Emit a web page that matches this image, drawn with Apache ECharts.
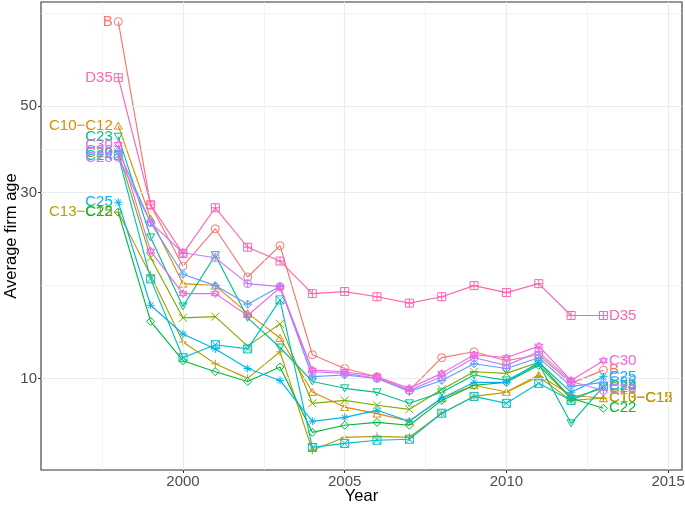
<!DOCTYPE html>
<html>
<head>
<meta charset="utf-8">
<script src="https://cdn.jsdelivr.net/npm/echarts@6/dist/echarts.min.js"></script>
<style>html,body{margin:0;padding:0;background:#fff}#c{width:685px;height:505px}</style>
</head>
<body>
<div id="c"></div>
<script>
const years = [1998,1999,2000,2001,2002,2003,2004,2005,2006,2007,2008,2009,2010,2011,2012,2013];
const seriesNames = ["B","C10−C12","C13−C15","C20","C22","C23","C24","C25","C26","C28","C30","D35"];
const B      = [82.3,27.8,19.4,24.2,18.2,21.9,11.5,10.6,10.1,9.32,11.3,11.7,11.1,11.5,9.71,10.5];
const C10C12 = [44.5,25.7,17.5,17.3,14.7,12.7,9.23,8.44,8.12,7.77,8.89,9.60,9.23,10.2,9.05,8.89];
const C13C15 = [26.7,18.4,12.4,10.9,10.0,11.7,6.54,7.06,7.10,7.06,8.14,8.99,9.21,10.1,8.78,8.89];
const C20    = [38.0,20.4,14.3,14.4,12.1,13.8,8.63,8.78,8.53,8.33,9.37,10.4,10.3,11.0,8.89,9.43];
const C22    = [26.7,14.0,11.1,10.4,9.82,10.7,7.27,7.58,7.71,7.58,8.78,9.60,9.77,10.8,8.89,8.38];
const C23    = [41.7,23.0,15.3,20.7,14.3,12.0,9.82,9.43,9.21,8.63,9.21,10.2,9.88,10.9,7.67,9.54];
const C24    = [37.3,18.0,11.3,12.2,11.9,15.9,6.65,6.81,6.94,6.98,8.14,8.99,8.63,9.71,8.78,9.54];
const C25    = [28.3,15.4,13.0,11.9,10.6,9.88,7.76,7.94,8.28,7.76,8.89,9.77,9.77,11.0,9.21,10.1];
const C26    = [38.4,25.1,18.5,17.3,15.5,17.2,10.1,10.2,10.0,9.26,9.88,10.9,10.6,11.3,9.54,9.77];
const C28    = [36.9,25.1,21.0,20.4,17.5,17.2,10.4,10.3,10.0,9.32,10.1,11.3,10.8,11.7,9.82,9.32];
const C30    = [39.8,21.2,16.5,16.5,14.5,17.1,10.5,10.4,10.1,9.43,10.3,11.5,11.3,12.1,9.88,11.1];
const D35    = [59.1,27.9,20.9,27.4,21.7,20.0,16.5,16.7,16.2,15.6,16.2,17.3,16.6,17.5,14.5,14.5];
const seriesValues = [B,C10C12,C13C15,C20,C22,C23,C24,C25,C26,C28,C30,D35];
const xTicks = [2000,2005,2010,2015];
const xMinor = [1997.5,2002.5,2007.5,2012.5];
const yTicks = [10,30,50];
const yMinor = [17.32,38.73,86.6];

const colors = ["#F8766D","#DE8C00","#B79F00","#7CAE00","#00BA38","#00C08B","#00BFC4","#00B4F0","#619CFF","#C77CFF","#F564E3","#FF64B0"];
const circ = "M0 5A5 5 0 1 0 10 5A5 5 0 1 0 0 5Z";
const shapes = [
  "path://" + circ,
  "path://M5 0L10 8.66L0 8.66Z",
  "path://M5 0V10M0 5H10",
  "path://M0 0L10 10M10 0L0 10",
  "path://M5 0L10 5L5 10L0 5Z",
  "path://M0 0L10 0L5 8.66Z",
  "path://M0 0H10V10H0ZM0 0L10 10M10 0L0 10",
  "path://M5 0V10M0 5H10M1.5 1.5L8.5 8.5M8.5 1.5L1.5 8.5",
  "path://M5 0L10 5L5 10L0 5ZM5 0V10M0 5H10",
  "path://" + circ + "M5 0V10M0 5H10",
  "path://M5 0L10 7.5L0 7.5ZM5 10L0 2.5L10 2.5Z",
  "path://M0 0H10V10H0ZM5 0V10M0 5H10"
];

const FONT = "Liberation Sans, Arial, sans-serif";
const grid = {left:41, right:3, top:2, bottom:35, outerBoundsMode:'none', containLabel:false,
  show:true, borderColor:'#333333', borderWidth:1.1, backgroundColor:'#fff'};

const series = [];
series.push({
  type:'line', data:[[2000,10]], showSymbol:false, symbol:'none', lineStyle:{opacity:0}, silent:true, z:0,
  markLine:{silent:true, symbol:['none','none'], label:{show:false}, animation:false,
    data:[
      ...xTicks.map(v=>({xAxis:v, lineStyle:{color:'#EBEBEB', width:1.1, type:'solid'}})),
      ...xMinor.map(v=>({xAxis:v, lineStyle:{color:'#EBEBEB', width:0.6, type:'solid'}})),
      ...yTicks.map(v=>({yAxis:v, lineStyle:{color:'#EBEBEB', width:1.1, type:'solid'}})),
      ...yMinor.map(v=>({yAxis:v, lineStyle:{color:'#EBEBEB', width:0.6, type:'solid'}}))
    ]}
});
seriesNames.forEach((name, k) => {
  const vals = seriesValues[k];
  const col = colors[k];
  const last = years.length - 1;
  series.push({
    type:'line', name:name, z:2+k,
    symbol: shapes[k], symbolSize: 8, symbolKeepAspect:true,
    lineStyle:{color:col, width:1.15},
    itemStyle:{color:'rgba(0,0,0,0)', borderColor:col, borderWidth:1},
    emphasis:{disabled:true},
    data: years.map((yr,i) => {
      const d = {value:[yr, vals[i]]};
      if (i === 0) d.label = {show:true, position:'left', distance:1, formatter:name, color:col, fontSize:15, fontFamily:FONT};
      if (i === last) d.label = {show:true, position:'right', distance:1, formatter:name, color:col, fontSize:15, fontFamily:FONT};
      return d;
    })
  });
});

const chart = echarts.init(document.getElementById('c'), null, {renderer:'canvas'});
chart.setOption({
  animation:false,
  backgroundColor:'#fff',
  grid: grid,
  xAxis:{type:'value', min:1995.61, max:2015.43,
    name:'Year', nameLocation:'middle', nameGap:26, nameMoveOverlap:false,
    nameTextStyle:{color:'#000', fontSize:16.5, fontFamily:FONT, verticalAlign:'middle'},
    axisLine:{show:false}, splitLine:{show:false},
    axisTick:{show:true, length:3, lineStyle:{color:'#333'}, customValues:xTicks},
    axisLabel:{color:'#4D4D4D', fontSize:15, fontFamily:FONT, margin:4, customValues:xTicks, formatter:v=>String(v)}
  },
  yAxis:{type:'log', logBase:10, min:5.82, max:92.4,
    name:'Average firm age', nameLocation:'middle', nameGap:30, nameRotate:90, nameMoveOverlap:false,
    nameTextStyle:{color:'#000', fontSize:16.5, fontFamily:FONT, verticalAlign:'middle'},
    axisLine:{show:false}, splitLine:{show:false}, minorSplitLine:{show:false},
    axisTick:{show:true, length:3, lineStyle:{color:'#333'}, customValues:yTicks},
    axisLabel:{color:'#4D4D4D', fontSize:15, fontFamily:FONT, margin:4, customValues:yTicks, formatter:v=>String(Math.round(v))}
  },
  series: series
});
</script>
</body>
</html>
